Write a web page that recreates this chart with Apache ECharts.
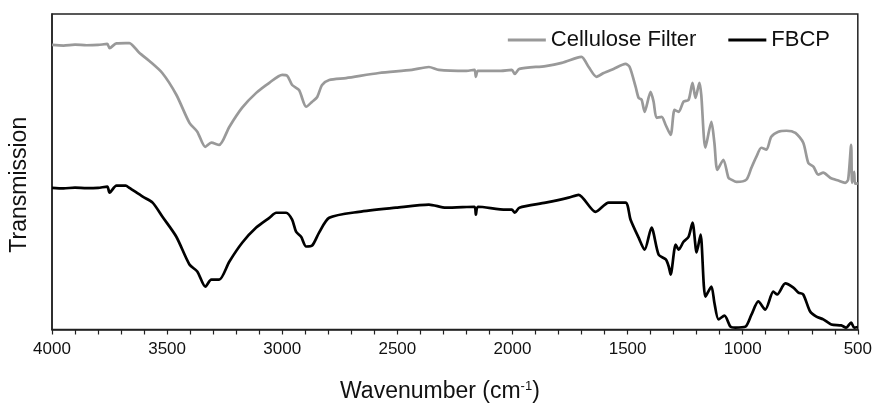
<!DOCTYPE html>
<html>
<head>
<meta charset="utf-8">
<script src="https://cdn.jsdelivr.net/npm/echarts@6/dist/echarts.min.js"></script>
<style>html,body{margin:0;padding:0;background:#fff;}#c{width:875px;height:408px;}</style>
</head>
<body>
<div id="c"></div>
<script>
// Cellulose Filter spectrum (wavenumber, transmission a.u.)
const filterWn = [4000,3950,3900,3850,3800,3760,3750,3720,3680,3664,3621,3577,3521,3460,3403,3369,3334,3308,3274,3230,3174,3113,3056,3000,2978,2957,2927,2896,2870,2848,2827,2796,2723,2580,2437,2363,2320,2200,2165,2159,2150,2050,2003,1990,1970,1856,1786,1721,1700,1669,1635,1604,1561,1509,1491,1465,1452,1439,1426,1400,1387,1374,1352,1335,1313,1296,1278,1257,1235,1218,1205,1188,1180,1162,1136,1123,1110,1084,1062,1049,1027,984,962,941,919,897,876,845,810,771,737,715,693,672,650,620,585,555,542,529,525,516,512,500];
const filterT  = [90.2,90.0,90.3,90.1,90.2,90.5,89.2,90.7,90.8,90.8,87.7,85.1,81.3,74.4,65.5,62.7,57.9,59.2,58.5,64.2,70.3,75.0,78.2,80.7,80.4,77.5,75.9,70.6,72.2,73.7,77.5,79.1,79.7,81.3,82.3,83.2,82.3,82.0,82.3,80.1,82.0,82.0,82.3,81.0,82.6,83.5,84.5,86.1,86.4,83.2,80.1,81.3,82.6,84.2,83.2,76.9,73.4,72.8,69.0,75.3,72.2,67.1,67.4,64.9,61.7,69.6,69.0,72.2,72.8,78.2,73.4,78.2,74.4,57.6,65.8,59.2,50.6,53.8,48.1,47.5,46.8,47.5,51.3,54.7,57.6,57.0,61.1,62.7,63.0,62.3,59.2,52.8,51.6,49.1,49.7,48.1,47.2,46.5,47.5,58.5,46.5,50.0,46.2,46.3];
// FBCP spectrum
const fbcpWn = [4000,3950,3900,3850,3800,3760,3750,3720,3680,3664,3606,3563,3521,3460,3403,3369,3334,3308,3274,3230,3174,3113,3056,3026,2983,2957,2940,2918,2896,2870,2840,2796,2667,2506,2363,2289,2165,2159,2150,2029,2003,1990,1970,1856,1756,1713,1639,1582,1509,1487,1452,1426,1396,1365,1334,1321,1313,1291,1278,1257,1235,1218,1200,1183,1162,1136,1123,1105,1079,1053,1032,988,962,932,902,867,850,815,780,758,737,707,680,650,615,572,551,529,516,500];
const fbcpT  = [44.9,44.7,45.0,44.8,44.9,45.3,43.4,45.6,45.6,44.9,42.1,40.2,35.8,29.4,20.6,18.4,13.6,15.8,15.8,21.5,27.5,32.3,35.4,37.0,37.0,34.8,31.0,29.4,26.3,26.6,30.7,35.4,37.3,38.6,39.6,38.6,38.9,36.4,38.9,38.0,38.0,37.0,38.6,40.2,41.8,42.7,37.3,40.2,40.2,34.8,29.1,25.3,32.3,23.7,22.2,19.9,17.4,26.9,25.3,27.8,29.4,33.9,24.4,30.1,10.4,13.6,8.5,3.2,4.4,0.9,0.6,0.9,4.7,8.9,6.3,12.0,11.1,14.6,13.3,11.7,11.1,5.7,4.1,3.2,1.6,1.3,0.6,2.2,0.6,0.8];
const seriesNames = ['Cellulose Filter', 'FBCP'];
const xTicks = [500, 4000, 500]; // min, max, interval

const pair = (xs, ys) => xs.map((x, i) => [x, ys[i]]);
const font = 'Liberation Sans, Arial, sans-serif';
const chart = echarts.init(document.getElementById('c'), null, {renderer: 'canvas'});
chart.setOption({
  animation: false,
  backgroundColor: '#fff',
  grid: {left: 52, right: 15, top: 14, bottom: 78, show: true, borderColor: '#222', borderWidth: 1.5, backgroundColor: 'transparent'},
  legend: {
    right: 40, top: 24, itemWidth: 38, itemHeight: 3, itemGap: 32, icon: 'rect',
    textStyle: {fontFamily: font, fontSize: 22, color: '#111'},
    data: seriesNames
  },
  xAxis: {
    type: 'value', inverse: true, min: xTicks[0], max: xTicks[1], interval: xTicks[2],
    name: 'Wavenumber (cm{sup|-1})', nameLocation: 'middle', nameGap: 50,
    nameTextStyle: {fontFamily: font, fontSize: 23, color: '#111', padding: [0, 30, 0, 0],
      rich: {sup: {fontFamily: font, fontSize: 13, verticalAlign: 'top', padding: [0,0,11,0], color: '#111'}}},
    axisLine: {show: true, lineStyle: {color: '#222', width: 1.5}},
    axisTick: {show: true, length: 5, inside: false, lineStyle: {color: '#222', width: 1.2}},
    minorTick: {show: true, splitNumber: 5, length: 5, lineStyle: {color: '#222', width: 1.2}},
    axisLabel: {fontFamily: font, fontSize: 17, color: '#111', margin: 11, formatter: v => String(v)},
    splitLine: {show: false}
  },
  yAxis: {
    type: 'value', min: 0, max: 100,
    name: 'Transmission', nameLocation: 'middle', nameGap: 21, nameRotate: 90,
    nameTextStyle: {fontFamily: font, fontSize: 23, color: '#111', padding: [0, 26, 0, 0]},
    axisLine: {show: true, lineStyle: {color: '#222', width: 1.5}},
    axisTick: {show: false}, axisLabel: {show: false}, splitLine: {show: false}
  },
  series: [
    {name: seriesNames[0], type: 'line', data: pair(filterWn, filterT), symbol: 'none', smooth: 0.25,
     lineStyle: {color: '#999999', width: 2.7}, itemStyle: {color: '#999999'}},
    {name: seriesNames[1], type: 'line', data: pair(fbcpWn, fbcpT), symbol: 'none', smooth: 0.25,
     lineStyle: {color: '#000000', width: 2.7}, itemStyle: {color: '#000000'}}
  ]
});
</script>
</body>
</html>
